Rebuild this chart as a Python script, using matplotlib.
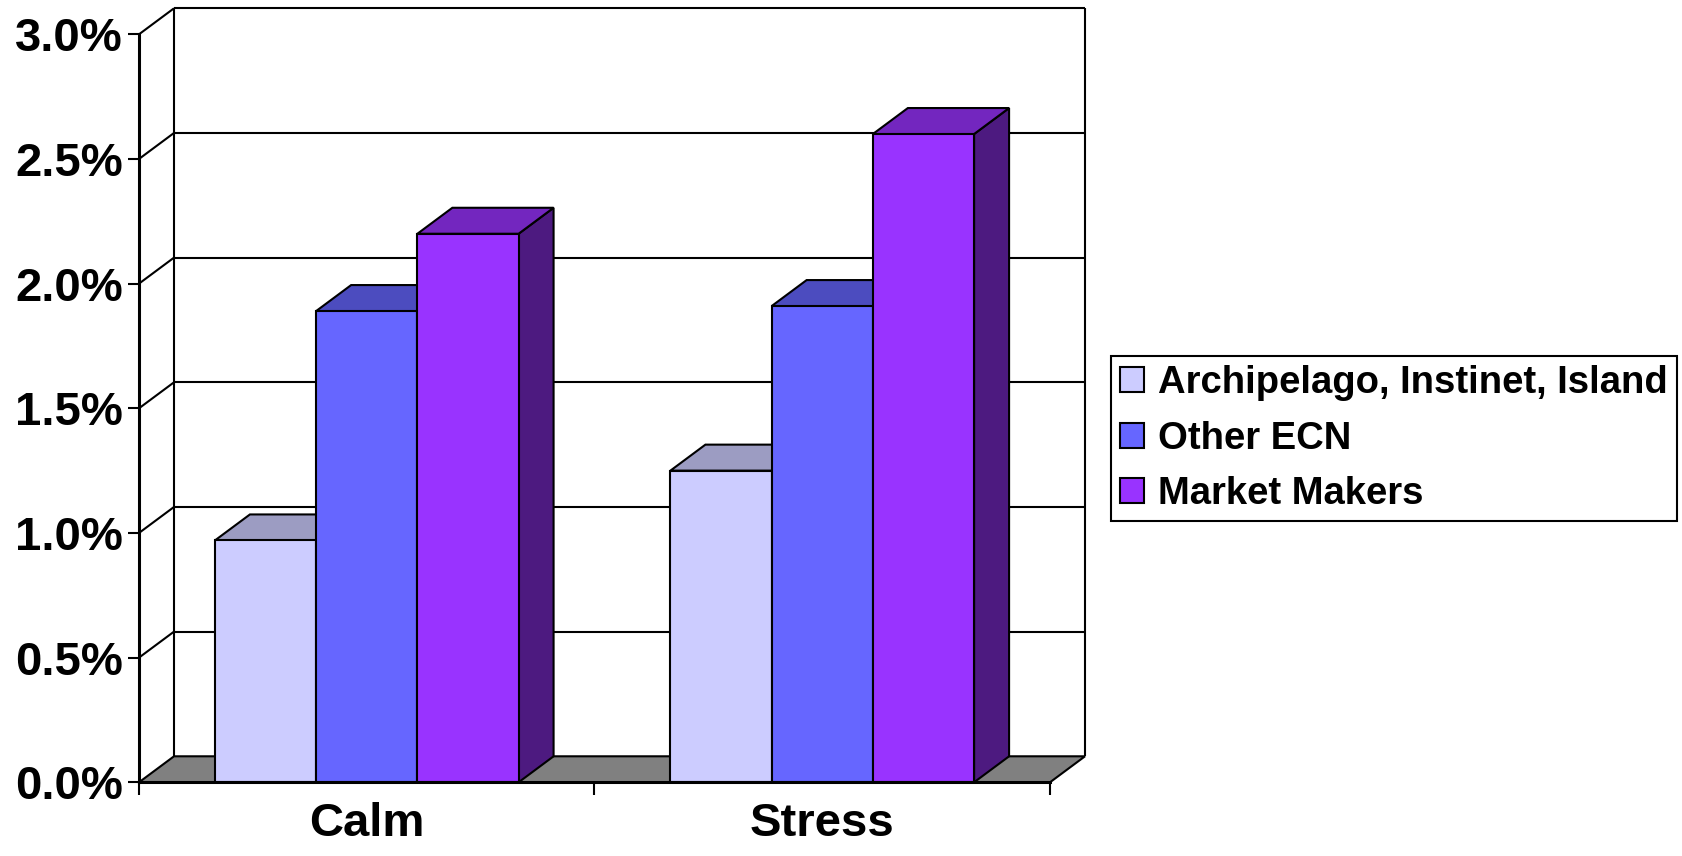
import matplotlib
matplotlib.use("Agg")
import matplotlib.pyplot as plt
from matplotlib.patches import Polygon, Rectangle, Patch

# ---- data -------------------------------------------------------------
categories = ["Calm", "Stress"]
series_names = ["Archipelago, Instinet, Island", "Other ECN", "Market Makers"]
archipelago = [0.97, 1.25]      # percent
other_ecn = [1.89, 1.91]
market_makers = [2.20, 2.60]
y_ticks = [0.0, 0.5, 1.0, 1.5, 2.0, 2.5, 3.0]
y_tick_labels = ["0.0%", "0.5%", "1.0%", "1.5%", "2.0%", "2.5%", "3.0%"]

series_values = [archipelago, other_ecn, market_makers]

# ---- style ------------------------------------------------------------
front_colors = ["#CCCCFF", "#6666FF", "#9933FF"]
top_colors = ["#9C9CC2", "#4C4CBF", "#7326BF"]
side_colors = ["#66667F", "#33337F", "#4D1A80"]
floor_color = "#808080"
EDGE_LW = 1.5
DEPTH_PX = (35, 26)           # oblique depth of the 3-D box, in pixels
GAP_WIDTH = 1.5                # gap between groups relative to bar width

plt.rcParams["font.family"] = ["Liberation Sans", "DejaVu Sans"]
plt.rcParams["font.weight"] = "bold"

W, H = 1683, 856
fig = plt.figure(figsize=(W / 100, H / 100), dpi=100)
ax = fig.add_axes([139 / W, 1 - 782.3 / H, (1050 - 139) / W, (782.3 - 34.3) / H])
ax.set_xlim(0, len(categories))
ax.set_ylim(0, 3.0)
ax.patch.set_visible(False)

# depth offsets expressed in data units
bbox = ax.get_window_extent()
ddx = DEPTH_PX[0] / (bbox.width / len(categories))
ddy = DEPTH_PX[1] / (bbox.height / 3.0)
x_max = len(categories)

# ---- box: floor, back wall, side-wall gridlines -----------------------
floor = Polygon([(0, 0), (x_max, 0), (x_max + ddx, ddy), (ddx, ddy)],
                closed=True, fc=floor_color, ec="black", lw=EDGE_LW,
                clip_on=False, zorder=1)
ax.add_patch(floor)

wall_kw = dict(color="black", lw=EDGE_LW, clip_on=False, zorder=1,
               solid_capstyle="butt")
ax.plot([ddx, ddx], [ddy, 3.0 + ddy], **wall_kw)
ax.plot([x_max + ddx, x_max + ddx], [ddy, 3.0 + ddy], **wall_kw)
for v in y_ticks[1:]:
    ax.plot([ddx, x_max + ddx], [v + ddy, v + ddy], **wall_kw)
    ax.plot([0, ddx], [v, v + ddy], **wall_kw)

# ---- 3-D bars -----------------------------------------------------------
n_series = len(series_values)
bar_w = 1.0 / (n_series + GAP_WIDTH)
z = 3
for c in range(len(categories)):
    for i, vals in enumerate(series_values):
        v = vals[c]
        left = c + GAP_WIDTH / 2 * bar_w + i * bar_w
        right = left + bar_w
        side = Polygon([(right, 0), (right + ddx, ddy), (right + ddx, v + ddy), (right, v)],
                       closed=True, fc=side_colors[i], ec="black", lw=EDGE_LW,
                       clip_on=False, zorder=z)
        top = Polygon([(left, v), (right, v), (right + ddx, v + ddy), (left + ddx, v + ddy)],
                      closed=True, fc=top_colors[i], ec="black", lw=EDGE_LW,
                      clip_on=False, zorder=z)
        front = Rectangle((left, 0), bar_w, v, fc=front_colors[i], ec="black",
                          lw=EDGE_LW, clip_on=False, zorder=z + 1)
        ax.add_patch(side)
        ax.add_patch(top)
        ax.add_patch(front)
        z += 2

# ---- axes ---------------------------------------------------------------
for s in ("top", "right"):
    ax.spines[s].set_visible(False)
for s in ("left", "bottom"):
    ax.spines[s].set_linewidth(2.2)
    ax.spines[s].set_zorder(50)

ax.set_yticks(y_ticks, y_tick_labels)
ax.tick_params(axis="y", direction="out", length=8, width=1.5, pad=3.6,
               labelsize=34, colors="black")

ax.set_xticks(range(len(categories) + 1), [""] * (len(categories) + 1))
ax.set_xticks([c + 0.5 for c in range(len(categories))], categories, minor=True)
ax.tick_params(axis="x", which="major", direction="out", length=9, width=1.5)
ax.tick_params(axis="x", which="minor", length=0, pad=14, labelsize=34)
for t in ax.get_xticklabels(minor=True) + ax.get_yticklabels():
    t.set_fontweight("bold")

# ---- legend -------------------------------------------------------------
handles = [Patch(fc=front_colors[i], ec="black", lw=EDGE_LW, label=series_names[i])
           for i in range(n_series)]
leg = fig.legend(handles=handles, loc="center left",
                 bbox_to_anchor=(1111 / W, 1 - 438.5 / H),
                 frameon=True, fancybox=False, shadow=False, framealpha=1,
                 edgecolor="black", prop={"size": 27.5, "weight": "bold"},
                 handlelength=0.63, handleheight=0.63, handletextpad=0.37,
                 borderpad=0.24, labelspacing=0.5, borderaxespad=0)
leg.get_frame().set_linewidth(1.5)

fig.savefig("out.png", dpi=100, facecolor="white")
